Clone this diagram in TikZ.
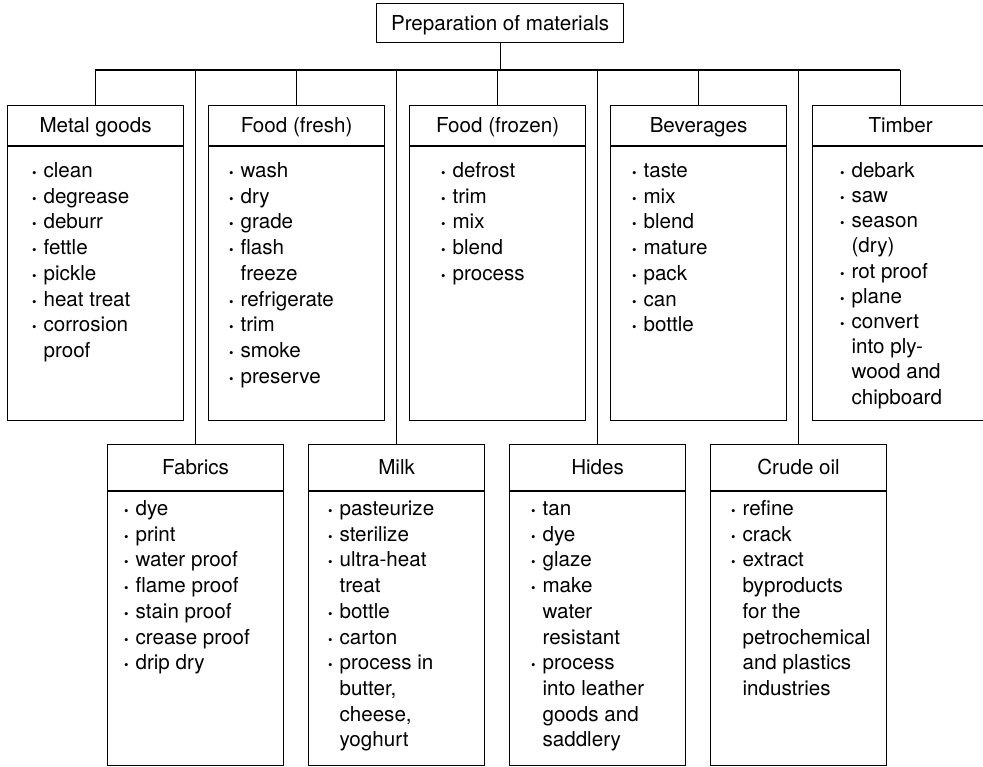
\documentclass[tikz,border=0pt]{standalone}
\usepackage{fontspec}
\setmainfont{TeX Gyre Heros}
\usepackage{graphicx}
\newcommand\bul{\llap{\scalebox{0.62}{•}\hspace{7pt}}}
\begin{document}
\begin{tikzpicture}[x=1pt,y=-1pt,line width=1.15pt,
  every node/.style={font=\fontsize{20.6}{25.7}\selectfont},
  hdr/.style={draw,inner sep=0pt,anchor=north west,minimum width=176pt,text height=18pt,text depth=3.2pt},
  bodybox/.style={draw,inner sep=0pt,anchor=north west,minimum width=176pt,minimum height=274pt},
  items/.style={inner sep=0pt,anchor=north west,align=left}]
\useasboundingbox (0,0) rectangle (983,767);
\clip (0,0) rectangle (983,767);
% top
\node[draw,inner sep=0pt,minimum width=247pt,minimum height=39pt,text height=18pt,text depth=3.2pt,anchor=north west] (top) at (376,3) {Preparation of materials};
\coordinate (busL) at (95,70);
\coordinate (busR) at (900,70);
% top row boxes
\node[hdr,minimum height=40pt] (metal) at (7,105) {Metal goods};
\node[bodybox] (metalb) at (metal.south west) {};
\node[hdr,minimum height=40pt] (fresh) at (208,105) {Food (fresh)};
\node[bodybox] (freshb) at (fresh.south west) {};
\node[hdr,minimum height=40pt] (frozen) at (409,105) {Food (frozen)};
\node[bodybox] (frozenb) at (frozen.south west) {};
\node[hdr,minimum height=40pt] (bev) at (610,105) {Beverages};
\node[bodybox] (bevb) at (bev.south west) {};
\node[hdr,minimum height=40pt] (timber) at (812,105) {Timber};
\node[bodybox] (timberb) at (timber.south west) {};
% bottom row boxes
\node[hdr,minimum height=46pt] (fab) at (107,444) {Fabrics};
\node[bodybox] (fabb) at (fab.south west) {};
\node[hdr,minimum height=46pt] (milk) at (308,444) {Milk};
\node[bodybox] (milkb) at (milk.south west) {};
\node[hdr,minimum height=46pt] (hides) at (509,444) {Hides};
\node[bodybox] (hidesb) at (hides.south west) {};
\node[hdr,minimum height=46pt] (crude) at (710,444) {Crude oil};
\node[bodybox] (crudeb) at (crude.south west) {};
% connectors
\draw (top.south) -- (top.south |- busL);
\draw (busL) -- (busR);
\foreach \n in {metal,fresh,frozen,bev,timber,fab,milk,hides,crude}
  \draw (\n.north) -- (\n.north |- busL);
% items top row
\node[items] (metali) at (43,159) {\strut\bul clean\\\bul degrease\\\bul deburr\\\bul fettle\\\bul pickle\\\bul heat treat\\\bul corrosion\\proof};
\node[items] (freshi) at (240,159) {\strut\bul wash\\\bul dry\\\bul grade\\\bul flash\\freeze\\\bul refrigerate\\\bul trim\\\bul smoke\\\bul preserve};
\node[items] (frozeni) at (452,159) {\strut\bul defrost\\\bul trim\\\bul mix\\\bul blend\\\bul process};
\node[items] (bevi) at (643,159) {\strut\bul taste\\\bul mix\\\bul blend\\\bul mature\\\bul pack\\\bul can\\\bul bottle};
\node[items,font=\fontsize{20.6}{25.2}\selectfont] (timberi) at (851,159) {\strut\bul debark\\\bul saw\\\bul season\\(dry)\\\bul rot proof\\\bul plane\\\bul convert\\into ply-\\wood and\\chipboard};
% items bottom row
\node[items] (fabi) at (135,497) {\strut\bul dye\\\bul print\\\bul water proof\\\bul flame proof\\\bul stain proof\\\bul crease proof\\\bul drip dry};
\node[items] (milki) at (339,497) {\strut\bul pasteurize\\\bul sterilize\\\bul ultra-heat\\treat\\\bul bottle\\\bul carton\\\bul process in\\butter,\\cheese,\\yoghurt};
\node[items] (hidesi) at (542,497) {\strut\bul tan\\\bul dye\\\bul glaze\\\bul make\\water\\resistant\\\bul process\\into leather\\goods and\\saddlery};
\node[items] (crudei) at (742,497) {\strut\bul refine\\\bul crack\\\bul extract\\byproducts\\for the\\petrochemical\\and plastics\\industries};
\end{tikzpicture}
\end{document}
